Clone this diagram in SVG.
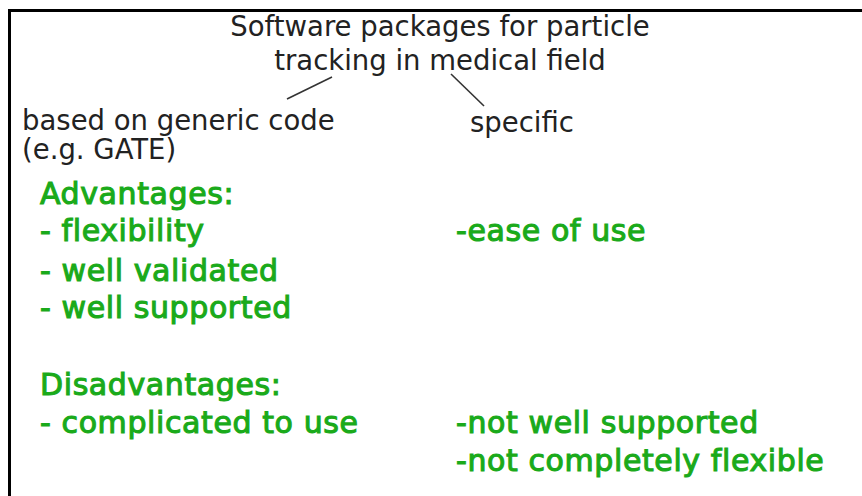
<svg xmlns="http://www.w3.org/2000/svg" width="862" height="496" viewBox="0 0 862 496">
<style>
.blk{font-family:"DejaVu Sans",sans-serif;font-size:27.5px;fill:#222}
.grn{font-family:"DejaVu Sans",sans-serif;font-size:30px;letter-spacing:0.6px;fill:#1aaa1a;stroke:#1aaa1a;stroke-width:1.1}
.con{stroke:#333;stroke-width:1.6;fill:none}
</style>
<rect width="862" height="496" fill="#fff"/>
<path d="M9.5 496 V10.5 H862" fill="none" stroke="#000" stroke-width="3"/>
<g id="root"><text class="blk" x="440" y="36" text-anchor="middle">Software packages for particle</text>
<text class="blk" x="440" y="70" text-anchor="middle">tracking in medical field</text></g>
<g id="generic"><text class="blk" x="22" y="130">based on generic code</text>
<text class="blk" x="22" y="159">(e.g. GATE)</text></g>
<g id="specific"><text class="blk" x="470" y="132">specific</text></g>
<g id="connectors"><line class="con" x1="332" y1="77" x2="287" y2="99"/><line class="con" x1="451" y1="74" x2="484" y2="106"/></g>
<g id="generic-list">
<text class="grn" x="40" y="204">Advantages:</text>
<text class="grn" x="40" y="241">- flexibility</text>
<text class="grn" x="40" y="281">- well validated</text>
<text class="grn" x="40" y="318">- well supported</text>
<text class="grn" x="40" y="395">Disadvantages:</text>
<text class="grn" x="40" y="433">- complicated to use</text>
</g>
<g id="specific-list">
<text class="grn" x="456" y="241">-ease of use</text>
<text class="grn" x="456" y="433">-not well supported</text>
<text class="grn" x="456" y="471">-not completely flexible</text>
</g>
</svg>
